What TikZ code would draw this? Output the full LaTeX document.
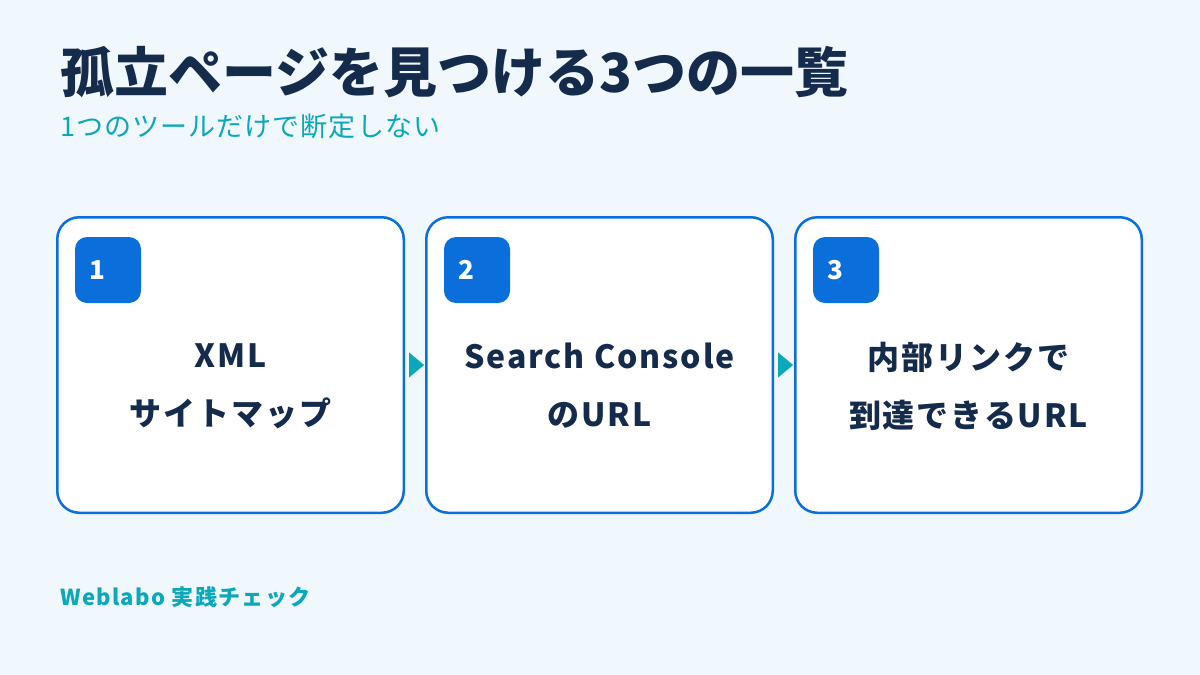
\documentclass[tikz,border=0pt]{standalone}
\usepackage{fontspec}
\setmainfont{Noto Sans CJK JP}
\newfontfamily\cardfont{Noto Sans CJK JP}[LetterSpace=6]
\newfontfamily\subfont{Noto Sans CJK JP}[LetterSpace=4]
\newfontfamily\footfont{Noto Sans CJK JP}[LetterSpace=6]
\usetikzlibrary{arrows.meta}
\definecolor{bgc}{HTML}{F0F7FD}
\definecolor{navy}{HTML}{142B4C}
\definecolor{cardblue}{HTML}{0B6FDB}
\definecolor{tealc}{HTML}{0AA8B8}
\tikzset{
  card/.style={draw=cardblue, line width=2.5pt, fill=white, rounded corners=22pt,
    minimum width=346.5pt, minimum height=295.5pt},
  badge/.style={fill=cardblue, rounded corners=12pt, minimum size=66pt, inner sep=0pt,
    outer sep=0pt, anchor=north west, text=white, text width=38pt, align=left,
    font=\bfseries\fontsize{26}{26}\selectfont},
  cardtext/.style={text=navy, align=center, font=\cardfont\bfseries\fontsize{32}{58}\selectfont},
  link/.style={draw=tealc, line width=0.1pt, shorten <=4pt, shorten >=1pt,
    -{Triangle[length=15pt,width=25pt,fill=tealc]}}
}
\begin{document}
\begin{tikzpicture}[x=1pt,y=-1pt]
  \fill[bgc] (0,0) rectangle (1200,675);
  % Heading
  \node[anchor=base west, inner sep=0pt, text=navy, font=\bfseries\fontsize{54}{54}\selectfont]
    (title) at (60,92) {孤立ページを見つける3つの一覧};
  \node[anchor=base west, inner sep=0pt, text=tealc, font=\subfont\fontsize{27}{27}\selectfont]
    (sub) at (60,136) {1つのツールだけで断定しない};
  % Cards
  \foreach \i/\x in {1/230.5, 2/599.5, 3/968.5} {
    \node[card] (b\i) at (\x,365) {};
    \node[badge] (n\i) at ([xshift=19pt,yshift=-21pt]b\i.north west) {\i};
  }
  \foreach \i/\t in {1/{XML\\サイトマップ}, 2/{Search Console\\のURL}, 3/{内部リンクで\\到達できるURL}} {
    \node[cardtext] (t\i) at ([yshift=-21pt]b\i.center) {\t};
  }
  % Arrows
  \foreach \a/\b in {1/2, 2/3} \draw[link] (b\a) -- (b\b);
  % Footer
  \node[anchor=base west, inner sep=0pt, text=tealc, font=\footfont\bfseries\fontsize{22}{22}\selectfont]
    (foot) at (60,605) {Weblabo 実践チェック};
\end{tikzpicture}
\end{document}
